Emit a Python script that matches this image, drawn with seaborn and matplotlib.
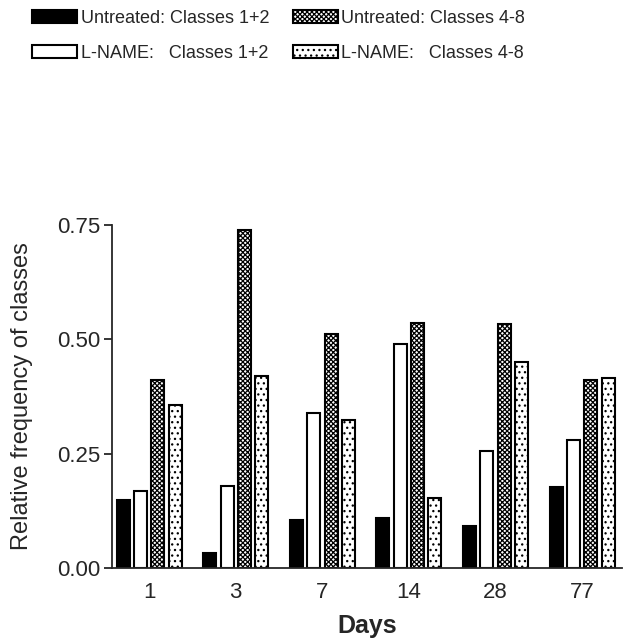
import matplotlib
matplotlib.use("Agg")
import matplotlib.pyplot as plt
import pandas as pd
import seaborn as sns

days = ["1", "3", "7", "14", "28", "77"]
untreated_12 = [0.149, 0.032, 0.106, 0.110, 0.093, 0.178]
lname_12 = [0.168, 0.179, 0.338, 0.490, 0.256, 0.281]
untreated_48 = [0.410, 0.739, 0.512, 0.536, 0.533, 0.410]
lname_48 = [0.357, 0.419, 0.323, 0.153, 0.450, 0.416]
series_labels = ["Untreated: Classes 1+2", "L-NAME:   Classes 1+2",
                 "Untreated: Classes 4-8", "L-NAME:   Classes 4-8"]

df = pd.DataFrame({
    "Day": days * 4,
    "Frequency": untreated_12 + lname_12 + untreated_48 + lname_48,
    "Group": [g for g in series_labels for _ in days],
})

sns.set_style("ticks")
plt.rcParams["font.family"] = ["Liberation Sans", "DejaVu Sans"]
plt.rcParams["hatch.linewidth"] = 0.9

fig = plt.figure(figsize=(6.28, 6.39), dpi=100)
ax = fig.add_axes([0.1783, 0.111, 0.812, 0.537])

sns.barplot(data=df, x="Day", y="Frequency", hue="Group", hue_order=series_labels,
            palette=["black", "white", "white", "white"], edgecolor="black",
            linewidth=1.5, gap=0.25, saturation=1, ax=ax)

# hatch patterns for the 4-8 classes
hatches = [None, None, "xxxxxxx", "..."]
for cont, h in zip(ax.containers, hatches):
    for bar in cont:
        if h:
            bar.set_hatch(h)
ax.legend_.remove()

ax.set_ylim(0, 0.75)
ax.set_xlim(-0.43, 5.46)
ax.set_yticks([0, 0.25, 0.5, 0.75])
ax.set_yticklabels(["0.00", "0.25", "0.50", "0.75"])
ax.tick_params(axis="y", length=6, width=1.3, labelsize=16, pad=2)
ax.tick_params(axis="x", length=0, labelsize=16, pad=10)
for s in ["left", "bottom"]:
    ax.spines[s].set_linewidth(1.3)
sns.despine(ax=ax)

ax.set_xlabel("Days", fontsize=18, fontweight="bold")
ax.set_ylabel("Relative frequency of classes", fontsize=17)
ax.xaxis.set_label_coords(0.5, -0.135)
ax.yaxis.set_label_coords(-0.155, 0.5)

fig.legend(handles=ax.containers, labels=series_labels, loc="upper left",
           bbox_to_anchor=(0.035, 1.0), ncol=2, frameon=False, fontsize=13,
           handlelength=2.5, handleheight=0.7, handletextpad=0.2,
           columnspacing=1.3, labelspacing=1.0, borderpad=0.05)

fig.savefig("out.png", dpi=100)
